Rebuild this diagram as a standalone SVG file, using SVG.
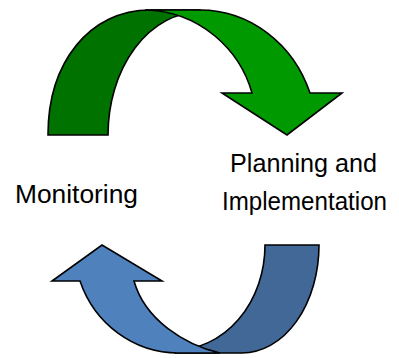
<svg xmlns="http://www.w3.org/2000/svg" width="399" height="358" viewBox="0 0 399 358">
  <style>
    .shape { stroke: #000; stroke-width: 1.6; stroke-linejoin: miter; }
    .g-back { fill: #007200; }
    .g-front { fill: #009A00; }
    .b-back { fill: #416897; }
    .b-front { fill: #4F81BD; }
    .label { font-family: "Liberation Sans", Arial, sans-serif; font-size: 25px; fill: #000; text-anchor: middle; }
  </style>
  <rect width="399" height="358" fill="#fff"/>
  <g id="connectors">
    <g id="green-arrow">
      <path class="shape g-back" d="M48,135 C48,62 90,10 150,10 L200,10 L200,12 A92,123 0 0 0 108,135 Z"/>
      <path class="shape g-front" d="M145,10 C200,11 240,50 252,93 L222,93 L287,135 L342,93 L310,93 A117,126 0 0 0 200,10 Z"/>
    </g>
    <g id="blue-arrow">
      <path class="shape b-back" d="M265,245 L319,245 A77,108 0 0 1 242,353 L175,353 L175,350 A90,105 0 0 0 265,245 Z"/>
      <path class="shape b-front" d="M80,281 L52,281 L102,245 L162,281 L134,281 C145,320 185,345 220,353 L178,353 A104,108 0 0 1 80,281 Z"/>
    </g>
  </g>
  <g id="node-planning">
    <text class="label" x="303.5" y="172" textLength="147" lengthAdjust="spacingAndGlyphs">Planning and</text>
    <text class="label" x="304.5" y="210" textLength="165" lengthAdjust="spacingAndGlyphs">Implementation</text>
  </g>
  <g id="node-monitoring">
    <text class="label" x="76.5" y="203" textLength="123" lengthAdjust="spacingAndGlyphs">Monitoring</text>
  </g>
</svg>
